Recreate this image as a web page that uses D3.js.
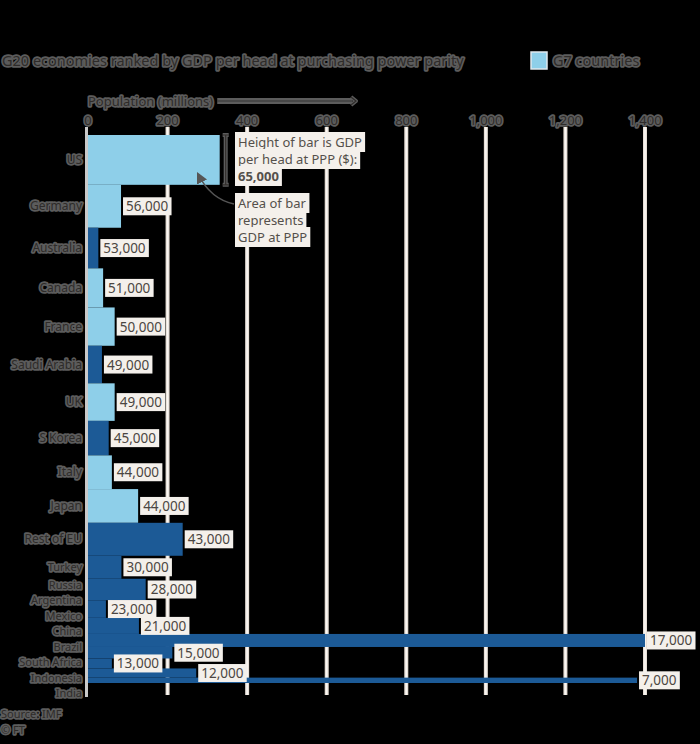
<!DOCTYPE html>
<html><head><meta charset="utf-8">
<script src="https://cdn.jsdelivr.net/npm/d3@7"></script>
<style>
html,body{margin:0;padding:0;background:#000;}
svg{display:block;font-family:"Noto Sans","Open Sans",sans-serif;}
</style></head>
<body>
<script>
const categories = ["US","Germany","Australia","Canada","France","Saudi Arabia","UK","S Korea","Italy","Japan","Rest of EU","Turkey","Russia","Argentina","Mexico","China","Brazil","South Africa","Indonesia","India"];
const gdpPerHead = [65000,56000,53000,51000,50000,49000,49000,45000,44000,44000,43000,30000,28000,23000,21000,17000,15000,13000,12000,7000];
const population = [331,83,26,38,67,35,67,52,60,126,238,84,145,45,128,1400,212,60,272,1380];
const g7Member = [true,true,false,true,true,false,true,false,true,true,false,false,false,false,false,false,false,false,false,false];
const xTicks = [0,200,400,600,800,1000,1200,1400];
const titleText = "G20 economies ranked by GDP per head at purchasing power parity";
const legendText = "G7 countries";
const axisTitle = "Population (millions)";
const annoHeight = ["Height of bar is GDP","per head at PPP ($):"];
const annoArea = ["Area of bar","represents","GDP at PPP"];
const sourceLines = ["Source: IMF","© FT"];

const W=700,H=744;
const svg=d3.select("body").append("svg").attr("width",W).attr("height",H);
svg.append("rect").attr("width",W).attr("height",H).attr("fill","#000");

const LIGHT="#8ecfe9", DARK="#1c5a96";
const total=d3.sum(gdpPerHead);
const cum=[0,...d3.cumsum(gdpPerHead)];
const x=d3.scaleLinear().domain([0,1400]).range([88,645]);
const y=d3.scaleLinear().domain([0,total]).range([135,683]);
const data=categories.map((c,i)=>({c,v:gdpPerHead[i],p:population[i],g7:g7Member[i],y0:cum[i],y1:cum[i+1]}));

function darkText(sel){
  return sel.attr("fill","#2e2b29").attr("stroke","#5c5c5c").attr("stroke-width",3.5)
    .attr("stroke-linejoin","round").attr("paint-order","stroke");
}

// title
darkText(svg.append("text").attr("x",2).attr("y",66).attr("font-size",14.5).text(titleText));
// legend
svg.append("rect").attr("x",531).attr("y",52).attr("width",16).attr("height",17)
  .attr("fill",LIGHT).attr("stroke","#dfe9ee").attr("stroke-width",1.5);
darkText(svg.append("text").attr("x",553).attr("y",66).attr("font-size",14.5).text(legendText));

// grid lines
const grid=svg.append("g");
grid.selectAll("line").data(xTicks.slice(1)).join("line")
  .attr("x1",d=>x(d)).attr("x2",d=>x(d)).attr("y1",127).attr("y2",695)
  .attr("stroke","#e6ded5").attr("stroke-width",4);
grid.selectAll("line.c").data(xTicks.slice(1)).join("line").attr("class","c")
  .attr("x1",d=>x(d)).attr("x2",d=>x(d)).attr("y1",127).attr("y2",695)
  .attr("stroke","#fbf8f5").attr("stroke-width",1.5);

// tick labels
const ax=svg.append("g");
ax.selectAll("text").data(xTicks).join("text")
  .attr("x",d=>x(d)).attr("y",125).attr("text-anchor","middle").attr("font-size",13)
  .text(d=>d3.format(",")(d)).call(darkText);

// axis title + arrow
const at=darkText(svg.append("text").attr("x",88).attr("y",106).attr("font-size",13).text(axisTitle));
const atw=at.node().getComputedTextLength();
svg.append("line").attr("x1",88+atw+4).attr("x2",352).attr("y1",101).attr("y2",101)
  .attr("stroke","#5c5c5c").attr("stroke-width",6);
svg.append("line").attr("x1",88+atw+4).attr("x2",352).attr("y1",101).attr("y2",101)
  .attr("stroke","#333").attr("stroke-width",1);
svg.append("path").attr("d","M351,97 L356,101 L351,105").attr("fill","none")
  .attr("stroke","#5c5c5c").attr("stroke-width",4).attr("stroke-linejoin","round");
svg.append("path").attr("d","M351,97 L356,101 L351,105").attr("fill","none")
  .attr("stroke","#2e2b29").attr("stroke-width",1.2);

// bars
svg.append("g").selectAll("rect").data(data).join("rect")
  .attr("x",x(0)).attr("width",d=>x(d.p)-x(0))
  .attr("y",d=>y(d.y0)).attr("height",d=>y(d.y1)-y(d.y0))
  .attr("fill",d=>d.g7?LIGHT:DARK);

// y axis line
svg.append("line").attr("x1",86.5).attr("x2",86.5).attr("y1",127).attr("y2",697)
  .attr("stroke","#c9c9c9").attr("stroke-width",3);

// category labels with collision avoidance (down pass, then up pass from bottom limit)
const labY=data.map(d=>(y(d.y0)+y(d.y1))/2);
const gap=15.5, maxY=693;
for(let i=1;i<labY.length;i++){ if(labY[i]-labY[i-1]<gap) labY[i]=labY[i-1]+gap; }
if(labY[labY.length-1]>maxY){
  labY[labY.length-1]=maxY;
  for(let i=labY.length-2;i>=0;i--){ if(labY[i+1]-labY[i]<gap) labY[i]=labY[i+1]-gap; }
}
svg.append("g").selectAll("text").data(data).join("text")
  .attr("x",82).attr("y",(d,i)=>labY[i]+4).attr("text-anchor","end")
  .attr("font-size",(d,i)=>i>=11?11:12).text(d=>d.c).call(darkText);

// value labels
const vl=svg.append("g");
data.slice(1).forEach(d=>{
  const g=vl.append("g");
  const cy=(y(d.y0)+y(d.y1))/2;
  const t=g.append("text").attr("x",x(d.p)+5).attr("y",cy+5).attr("font-size",13.5)
    .attr("fill","#4b4642").text(d3.format(",")(d.v));
  const b=t.node().getBBox();
  g.insert("rect","text").attr("x",b.x-3).attr("y",cy-9).attr("width",b.width+6).attr("height",18)
    .attr("fill","#f4f0eb");
});

// annotation
const us=data[0];
const ax0=238;
function boxLines(lines,y0,bold){
  lines.forEach((l,i)=>{
    const g=svg.append("g");
    const t=g.append("text").attr("x",ax0).attr("y",y0+i*17).attr("font-size",13)
      .attr("fill","#55504b").attr("font-weight",bold&&i===lines.length-1?"bold":null).text(l);
    const b=t.node().getBBox();
    g.insert("rect","text").attr("x",b.x-3).attr("y",b.y-1).attr("width",b.width+6).attr("height",b.height+2)
      .attr("fill","#f4f0eb");
  });
}
boxLines([...annoHeight,d3.format(",")(us.v)],147,true);
boxLines(annoArea,208,false);
// height bracket
const bx=x(us.p)+6;
const bpath=`M${bx-3},${y(us.y0)} H${bx+3} M${bx},${y(us.y0)} V${y(us.y1)} M${bx-3},${y(us.y1)} H${bx+3}`;
svg.append("path").attr("d",bpath).attr("fill","none").attr("stroke","#5c5c5c").attr("stroke-width",4);
svg.append("path").attr("d",bpath).attr("fill","none").attr("stroke","#332f2c").attr("stroke-width",1.2);
// arrow
svg.append("defs").append("marker").attr("id","ah").attr("viewBox","0 0 10 10").attr("refX",8).attr("refY",5)
  .attr("markerWidth",7).attr("markerHeight",7).attr("orient","auto-start-reverse")
  .append("path").attr("d","M0,0 L10,5 L0,10 z").attr("fill","#555");
svg.append("path").attr("d","M234,204 C215,200 205,188 198,174").attr("fill","none")
  .attr("stroke","#555").attr("stroke-width",1.6).attr("marker-end","url(#ah)");

// source
sourceLines.forEach((s,i)=>{
  darkText(svg.append("text").attr("x",1).attr("y",718+i*16).attr("font-size",11).text(s));
});
</script>
</body></html>
